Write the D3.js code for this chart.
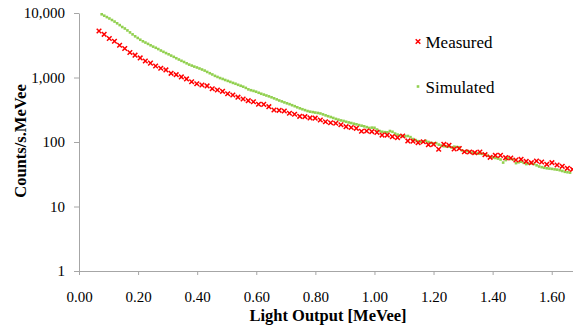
<!DOCTYPE html>
<html>
<head>
<meta charset="utf-8">
<script src="https://cdn.jsdelivr.net/npm/d3@7"></script>
<style>
  body { margin: 0; background: #fff; }
  svg { display: block; font-family: "Liberation Serif", "Times New Roman", serif; }
</style>
</head>
<body>
<div id="chart"></div>
<script>
// Data section

// Measured spectrum, one value per bin (counts/s.MeVee)
var measuredStart = 0.0677;
var measuredStep = 0.01742;
var measured = [
  5260, 4670, 4020, 3650, 3160, 2820, 2440, 2220, 2010, 1800,
  1670, 1510, 1390, 1310, 1160, 1105, 1020, 950, 860, 800,
  765, 740, 670, 640, 610, 560, 535, 495, 464, 437,
  421, 385, 383, 353, 313, 310, 302, 279, 269, 250,
  247, 236, 234, 219, 206, 199, 195, 185, 173, 168,
  163, 147, 148, 145, 141, 128, 128, 121, 117, 124,
  104, 103, 97.5, 101, 90.8, 92.1, 77.1, 92, 88.9, 77.9,
  79.3, 70.7, 70, 68.3, 70, 63.6, 57.9, 62.2, 62, 57.1,
  56.5, 52.6, 53.9, 50.2, 47.8, 50.8, 49, 45.1, 47.8, 44,
  42, 39.1, 37.7
];

// Simulated spectrum, finer bins
var simulatedStart = 0.0768;
var simulatedStep = 0.00871;
var simulated = [
  9550, 9080, 8640, 8220, 7790, 7360, 6920, 6490, 6070, 5750,
  5370, 5000, 4660, 4350, 4100, 3850, 3640, 3480, 3320, 3160,
  3010, 2890, 2760, 2620, 2500, 2390, 2290, 2185, 2090, 1990,
  1900, 1815, 1740, 1660, 1585, 1530, 1475, 1430, 1380, 1330,
  1280, 1220, 1165, 1115, 1060, 1020, 980, 950, 915, 885,
  855, 825, 800, 770, 745, 720, 690, 655, 635, 620,
  602, 580, 560, 543, 526, 510, 493, 475, 458, 440,
  426, 411, 398, 386, 372, 359, 345, 333, 322, 312,
  302, 295, 291, 286, 282, 277, 268, 259, 251, 244,
  236, 228, 222, 216, 212, 206, 201, 197, 192, 188,
  183, 179, 175, 170, 165, 167, 166, 156, 148, 144,
  142, 141, 148, 144, 135, 130, 127, 124, 123, 124,
  119, 111, 107, 103, 101, 102, 104, 100, 97, 95,
  96, 91, 88, 86, 85.5, 85, 82, 84.5, 83.5, 83,
  74, 71, 72.5, 70.5, 68, 67, 66.5, 66, 65.5, 64.5,
  61.5, 58.7, 57.7, 56.5, 55.3, 53.5, 48, 52.5, 56, 54.5,
  53.5, 47, 48.5, 49.5, 47.5, 45.5, 46, 46.5, 45.6, 43.5,
  41.7, 40.7, 39.8, 39.1, 38.7, 38.3, 37.7, 37.3, 36.5, 35.5,
  34.5, 34, 33.5
];

var xTicks = [0, 0.2, 0.4, 0.6, 0.8, 1.0, 1.2, 1.4, 1.6];
var yTicks = [1, 10, 100, 1000, 10000];
var seriesNames = ["Measured", "Simulated"];

// Graph space section
var width = 573;
var height = 326;

// plot edges in pixels
var plotLeft = 79;
var plotRight = 573;
var plotTop = 13;
var plotBottom = 271;

var axisColor = "#a6a6a6";
var red = "#ff0000";
var green = "#92d050";

var svg = d3
  .select("#chart")
  .append("svg")
  .attr("width", width)
  .attr("height", height);

var x = d3.scaleLinear().domain([0, 1.672]).range([plotLeft, plotRight]);
var y = d3.scaleLog().domain([1, 10000]).range([plotBottom, plotTop]);

// Axes
svg.append("g")
  .attr("transform", "translate(" + plotLeft + ",0)")
  .call(d3.axisLeft(y)
    .tickValues(yTicks)
    .tickFormat(d3.format(","))
    .tickSize(5)
    .tickSizeOuter(0)
    .tickPadding(9));

svg.append("g")
  .attr("transform", "translate(0," + plotBottom + ")")
  .call(d3.axisBottom(x)
    .tickValues(xTicks)
    .tickFormat(d3.format(".2f"))
    .tickSize(4)
    .tickSizeOuter(0)
    .tickPadding(16));

svg.selectAll(".domain, .tick line").attr("stroke", axisColor);
svg.selectAll(".tick text")
  .attr("fill", "#000")
  .style("font-family", "'Liberation Serif', 'Times New Roman', serif")
  .style("font-size", "15px");

// Axis titles
svg.append("text")
  .attr("x", 328)
  .attr("y", 321)
  .attr("text-anchor", "middle")
  .style("font-weight", "bold")
  .style("font-size", "16.5px")
  .text("Light Output [MeVee]");

svg.append("text")
  .attr("transform", "translate(26,141) rotate(-90)")
  .attr("text-anchor", "middle")
  .style("font-weight", "bold")
  .style("font-size", "16.5px")
  .text("Counts/s.MeVee");

// Markers
function crossPath(s) {
  return "M" + (-s) + "," + (-s) + "L" + s + "," + s +
    "M" + (-s) + "," + s + "L" + s + "," + (-s);
}

var simData = simulated.map(function(v, i) {
  return { x: simulatedStart + i * simulatedStep, y: v };
});
var measData = measured.map(function(v, i) {
  return { x: measuredStart + i * measuredStep, y: v };
});

svg.append("g")
  .selectAll("rect")
  .data(simData)
  .enter()
  .append("rect")
  .attr("x", function(d) { return x(d.x) - 1.3; })
  .attr("y", function(d) { return y(d.y) - 1.3; })
  .attr("width", 2.6)
  .attr("height", 2.6)
  .attr("fill", green);

svg.append("g")
  .selectAll("path")
  .data(measData)
  .enter()
  .append("path")
  .attr("transform", function(d) { return "translate(" + x(d.x) + "," + y(d.y) + ")"; })
  .attr("d", crossPath(2.3))
  .attr("stroke", red)
  .attr("stroke-width", 1.5)
  .attr("fill", "none");

// Legend
var legend = svg.append("g").attr("class", "legend");

legend.append("path")
  .attr("transform", "translate(418,41.5)")
  .attr("d", crossPath(2.3))
  .attr("stroke", red)
  .attr("stroke-width", 1.5);

legend.append("rect")
  .attr("x", 416.7)
  .attr("y", 85.2)
  .attr("width", 2.6)
  .attr("height", 2.6)
  .attr("fill", green);

legend.selectAll("text")
  .data(seriesNames)
  .enter()
  .append("text")
  .attr("x", 425.5)
  .attr("y", function(d, i) { return 47.5 + i * 45; })
  .style("font-size", "17px")
  .attr("fill", "#000")
  .text(function(d) { return d; });
</script>
</body>
</html>
